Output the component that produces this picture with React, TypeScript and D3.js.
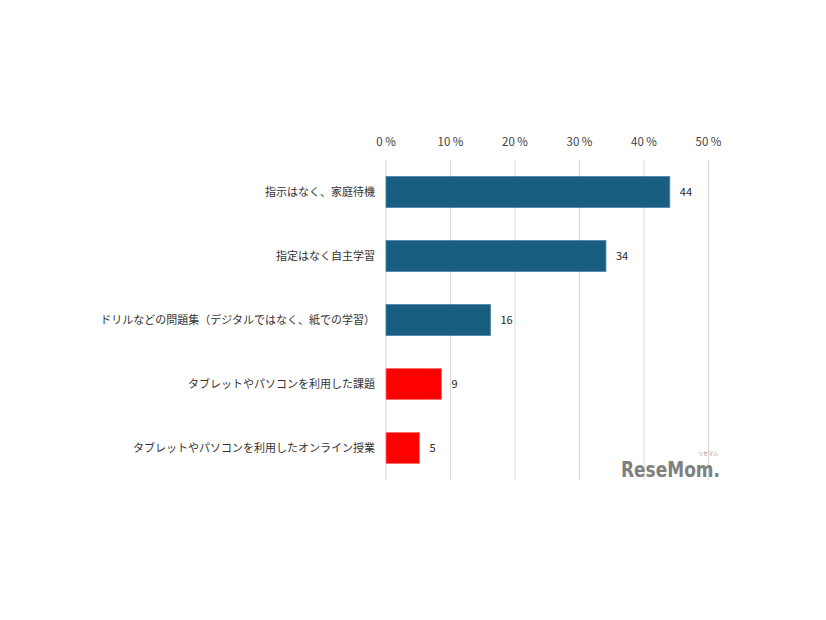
import * as d3 from "d3";

const categories = [
  "指示はなく、家庭待機",
  "指定はなく自主学習",
  "ドリルなどの問題集（デジタルではなく、紙での学習）",
  "タブレットやパソコンを利用した課題",
  "タブレットやパソコンを利用したオンライン授業",
];
const values = [44.0, 34.1, 16.2, 8.6, 5.2];
const valueLabels = ["44", "34", "16", "9", "5"];
const barColors = ["#175e81", "#175e81", "#175e81", "#ff0000", "#ff0000"];
const strokeColors = ["#4a86a6", "#4a86a6", "#4a86a6", "#ff7070", "#ff7070"];
const xTicks = [0, 10, 20, 30, 40, 50];

const FONT = "'Noto Sans CJK JP', 'Noto Sans', sans-serif";

export default function App() {
  const width = 826;
  const height = 620;
  const plot = { left: 386, right: 708.5, top: 160, bottom: 480 };

  const x = d3.scaleLinear().domain([0, 50]).range([plot.left, plot.right]);
  const y = d3
    .scaleBand<string>()
    .domain(categories)
    .range([plot.top, plot.bottom])
    .paddingInner(0.515)
    .paddingOuter(0.2575);

  return (
    <svg
      width={width}
      height={height}
      style={{ position: "absolute", left: 0, top: 0, background: "#fff" }}
      fontFamily={FONT}
    >
      {/* grid lines */}
      {xTicks.map((t) => (
        <line
          key={"g" + t}
          x1={x(t)}
          x2={x(t)}
          y1={plot.top}
          y2={plot.bottom}
          stroke="#d9d9d9"
          strokeWidth={1}
        />
      ))}

      {/* tick labels */}
      {xTicks.map((t) => (
        <text
          key={"t" + t}
          x={x(t)}
          y={146}
          textAnchor="middle"
          fontSize={11.5}
          fill="#404040"
        >
          {`${t} %`}
        </text>
      ))}

      {/* bars */}
      {categories.map((c, i) => (
        <rect
          key={"b" + i}
          x={x(0)}
          y={y(c)}
          width={x(values[i]) - x(0)}
          height={y.bandwidth()}
          fill={barColors[i]}
          stroke={strokeColors[i]}
          strokeWidth={0.8}
        />
      ))}

      {/* value labels */}
      {categories.map((c, i) => (
        <text
          key={"v" + i}
          x={x(values[i]) + 10}
          y={(y(c) ?? 0) + y.bandwidth() / 2}
          dy="0.35em"
          fontSize={11}
          fill="#262626"
        >
          {valueLabels[i]}
        </text>
      ))}

      {/* category labels */}
      {categories.map((c) => (
        <text
          key={"c" + c}
          x={375}
          y={(y(c) ?? 0) + y.bandwidth() / 2}
          dy="0.35em"
          textAnchor="end"
          fontSize={11}
          fill="#333"
        >
          {c}
        </text>
      ))}

      {/* watermark */}
      <text
        x={718}
        y={455}
        textAnchor="end"
        fontSize={5}
        fill="#8a8a8a"
      >
        リセマム
      </text>
      <text
        x={621}
        y={477}
        fontSize={21}
        fontWeight="bold"
        fill="#808080"
        fontFamily="'DejaVu Sans Condensed', 'Liberation Sans Narrow', sans-serif"
        textLength={99}
        lengthAdjust="spacingAndGlyphs"
      >
        ReseMom.
      </text>
    </svg>
  );
}
